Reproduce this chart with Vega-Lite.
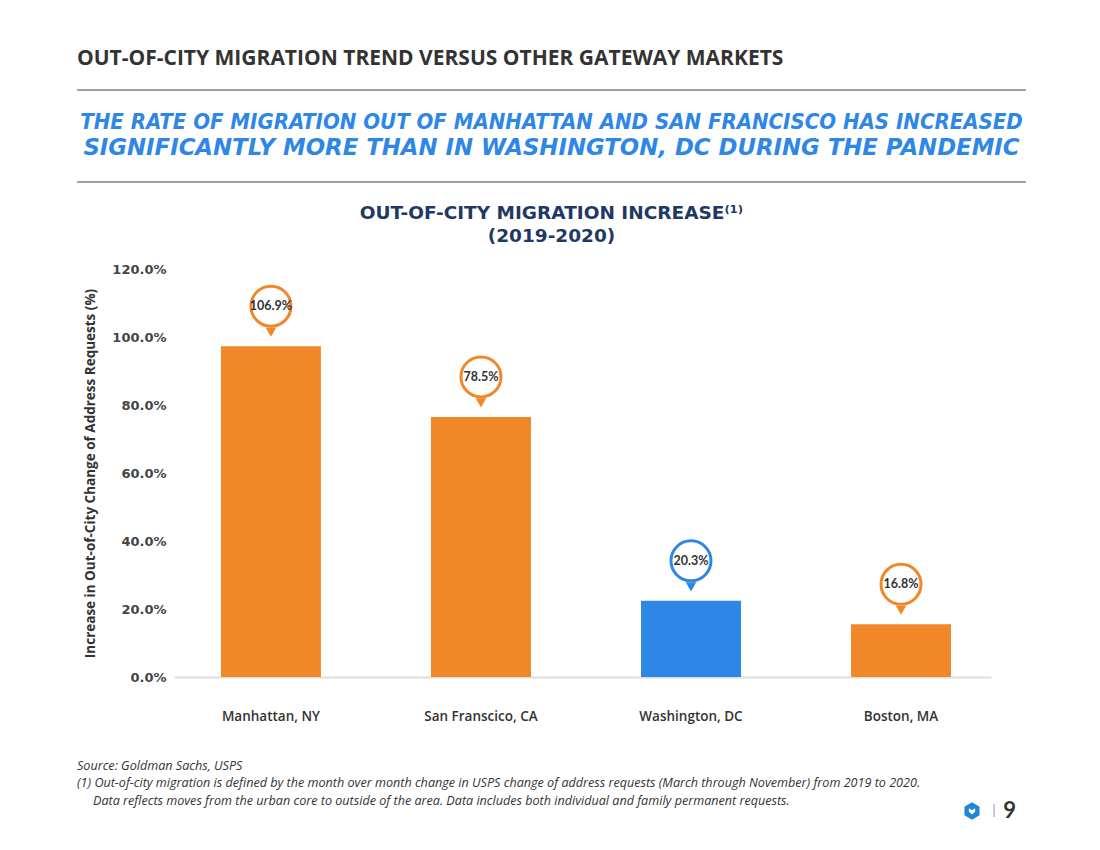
{
  "$schema": "https://vega.github.io/schema/vega-lite/v6.json",
  "background": "white",
  "padding": {"left": 76, "top": 48, "right": 0, "bottom": 0},
  "config": {"view": {"stroke": null}, "font": "Lato"},
  "bounds": "flush",
  "center": true,
  "spacing": 87,
  "vconcat": [
    {
      "width": 949,
      "height": 92,
      "title": {"text": "OUT-OF-CITY MIGRATION TREND VERSUS OTHER GATEWAY MARKETS", "anchor": "start", "frame": "group", "font": "Open Sans", "fontSize": 21, "fontWeight": "bold", "color": "#333333", "offset": 20},
      "data": {"values": [{"k": 1}]},
      "layer": [
        {"mark": {"type": "rule", "color": "#808080", "strokeWidth": 1.3}, "encoding": {"x": {"datum": 0, "type": "quantitative", "scale": {"domain": [0, 1]}, "axis": null}, "x2": {"datum": 1}, "y": {"datum": 1, "type": "quantitative", "scale": {"domain": [0, 1]}, "axis": null}}},
        {"mark": {"type": "rule", "color": "#808080", "strokeWidth": 1.3}, "encoding": {"x": {"datum": 0, "type": "quantitative"}, "x2": {"datum": 1}, "y": {"datum": 0, "type": "quantitative"}}},
        {"mark": {"type": "text", "text": "THE RATE OF MIGRATION OUT OF MANHATTAN AND SAN FRANCISCO HAS INCREASED", "font": "DejaVu Sans Condensed", "fontSize": 22, "fontWeight": "bold", "fontStyle": "italic", "color": "#2E87E6", "dy": -14}, "encoding": {"x": {"datum": 0.5, "type": "quantitative"}, "y": {"datum": 0.5, "type": "quantitative"}}},
        {"mark": {"type": "text", "text": "SIGNIFICANTLY MORE THAN IN WASHINGTON, DC DURING THE PANDEMIC", "font": "DejaVu Sans", "fontSize": 22.8, "fontWeight": "bold", "fontStyle": "italic", "color": "#2E87E6", "dy": 12}, "encoding": {"x": {"datum": 0.5, "type": "quantitative"}, "y": {"datum": 0.5, "type": "quantitative"}}}
      ]
    },
    {
      "width": 879,
      "height": 408,
      "title": {"text": ["OUT-OF-CITY MIGRATION INCREASE⁽¹⁾", "(2019-2020)"], "anchor": "middle", "frame": "group", "font": "DejaVu Sans", "fontSize": 18.5, "fontWeight": "bold", "color": "#1F3864", "lineHeight": 22.5, "offset": 18},
      "data": {"values": [
        {"city": "Manhattan, NY", "value": 97.3, "label": "106.9%", "group": "Other"},
        {"city": "San Franscico, CA", "value": 76.5, "label": "78.5%", "group": "Other"},
        {"city": "Washington, DC", "value": 22.4, "label": "20.3%", "group": "Washington"},
        {"city": "Boston, MA", "value": 15.5, "label": "16.8%", "group": "Other"}
      ]},
      "encoding": {
        "x": {"field": "city", "type": "nominal", "sort": null,
          "scale": {"range": [62, 879], "paddingInner": 0.524, "paddingOuter": 0.207, "align": 0.54},
          "axis": {"title": null, "ticks": false, "domain": true, "domainColor": "#dddddd", "domainWidth": 2, "labelPadding": 32, "labelAngle": 0, "labelFont": "Open Sans", "labelFontSize": 13.5, "labelFontWeight": 600, "labelColor": "#333333"}},
        "y": {"field": "value", "type": "quantitative", "scale": {"domain": [0, 120]},
          "axis": {"title": "Increase in Out-of-City Change of Address Requests (%)", "offset": -62, "values": [0, 20, 40, 60, 80, 100, 120], "labelExpr": "format(datum.value, '.1f') + '%'", "grid": false, "ticks": false, "domain": false, "labelPadding": 8, "labelFont": "DejaVu Sans", "labelFontSize": 13, "labelFontWeight": "bold", "labelColor": "#444444", "titleFont": "Open Sans", "titleFontSize": 13.5, "titleFontWeight": "bold", "titleColor": "#333333", "titlePadding": 14}}
      },
      "layer": [
        {"mark": {"type": "bar"}, "encoding": {"color": {"field": "group", "type": "nominal", "scale": {"domain": ["Other", "Washington"], "range": ["#F0882A", "#2E87E6"]}, "legend": null}}},
        {"mark": {"type": "point", "shape": "triangle-down", "filled": true, "size": 110, "opacity": 1, "yOffset": -14}, "encoding": {"color": {"field": "group", "type": "nominal", "scale": {"domain": ["Other", "Washington"], "range": ["#F0882A", "#2E87E6"]}, "legend": null}}},
        {"mark": {"type": "point", "shape": "circle", "filled": true, "fill": "white", "fillOpacity": 1, "opacity": 1, "strokeWidth": 3, "size": 1600, "yOffset": -40}, "encoding": {"stroke": {"field": "group", "type": "nominal", "scale": {"domain": ["Other", "Washington"], "range": ["#F0882A", "#2E87E6"]}, "legend": null}}},
        {"mark": {"type": "text", "font": "Lato", "fontSize": 12.5, "fontWeight": "bold", "color": "#333333", "yOffset": -40}, "encoding": {"text": {"field": "label"}}}
      ]
    },
    {
      "width": 949,
      "height": 47,
      "data": {"values": [{"k": 1}]},
      "layer": [
        {"mark": {"type": "text", "align": "left", "baseline": "top", "font": "Open Sans", "fontSize": 12.6, "fontStyle": "italic", "color": "#333333", "lineHeight": 17, "dy": -4,
          "text": ["Source: Goldman Sachs, USPS", "(1) Out-of-city migration is defined by the month over month change in USPS change of address requests (March through November) from 2019 to 2020."]},
          "encoding": {"x": {"datum": 0, "type": "quantitative", "scale": {"domain": [0, 1]}, "axis": null}, "y": {"datum": 1, "type": "quantitative", "scale": {"domain": [0, 1]}, "axis": null}}},
        {"mark": {"type": "text", "align": "left", "baseline": "top", "font": "Open Sans", "fontSize": 12.6, "fontStyle": "italic", "color": "#333333", "dy": 31, "dx": 16,
          "text": "Data reflects moves from the urban core to outside of the area. Data includes both individual and family permanent requests."},
          "encoding": {"x": {"datum": 0, "type": "quantitative"}, "y": {"datum": 1, "type": "quantitative"}}},
        {"mark": {"type": "point", "shape": "M0,-1L0.87,-0.5L0.87,0.5L0,1L-0.87,0.5L-0.87,-0.5Z", "filled": true, "color": "#1E88D8", "opacity": 1, "size": 300, "xOffset": -54},
          "encoding": {"x": {"datum": 1, "type": "quantitative"}, "y": {"datum": 0, "type": "quantitative"}}},
        {"mark": {"type": "point", "shape": "M-0.8,-0.7L0,-0.2L0.8,-0.7L0.8,0.2L0,0.9L-0.8,0.2Z", "filled": true, "color": "white", "opacity": 1, "size": 60, "xOffset": -54},
          "encoding": {"x": {"datum": 1, "type": "quantitative"}, "y": {"datum": 0, "type": "quantitative"}}},
        {"mark": {"type": "text", "text": "|", "font": "Lato", "fontSize": 14, "color": "#999999", "dx": -32},
          "encoding": {"x": {"datum": 1, "type": "quantitative"}, "y": {"datum": 0, "type": "quantitative"}}},
        {"mark": {"type": "text", "text": "9", "align": "right", "font": "Lato", "fontSize": 22, "fontWeight": "bold", "color": "#333333", "dx": -10},
          "encoding": {"x": {"datum": 1, "type": "quantitative"}, "y": {"datum": 0, "type": "quantitative"}}}
      ]
    }
  ]
}
